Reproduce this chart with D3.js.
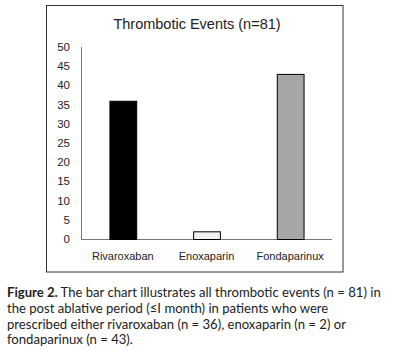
<!DOCTYPE html>
<html><head><meta charset="utf-8">
<script src="https://cdn.jsdelivr.net/npm/d3@7"></script>
<style>
html,body{margin:0;padding:0;background:#fff;}
</style></head>
<body>
<svg id="c" width="394" height="355"></svg>
<script>
const categories = ["Rivaroxaban", "Enoxaparin", "Fondaparinux"];
const values = [36, 2, 43];
const barColors = ["#000000", "#f2f2f2", "#a6a6a6"];
const yTicks = [0, 5, 10, 15, 20, 25, 30, 35, 40, 45, 50];
const title = "Thrombotic Events (n=81)";
const captionBold = "Figure 2.";
const captionLines = [
  " The bar chart illustrates all thrombotic events (n = 81) in",
  "the post ablative period (\u2264I  month) in patients who were",
  "prescribed either rivaroxaban (n = 36), enoxaparin (n = 2) or",
  "fondaparinux (n = 43)."
];

const svg = d3.select("#c");
const chartFont = "Liberation Sans, Arial, sans-serif";
const capFont = "Lato, 'Open Sans', sans-serif";

// frame
svg.append("rect").attr("x", 46.5).attr("y", 5.5).attr("width", 296.5).attr("height", 266.5)
  .attr("fill", "none").attr("stroke", "#333").attr("stroke-width", 1);

svg.append("text").attr("x", 197).attr("y", 29).attr("text-anchor", "middle")
  .attr("font-family", chartFont).attr("font-size", 14.5).attr("fill", "#222").text(title);

const x = d3.scaleBand().domain(categories).range([81, 332]).padding(0);
const y = d3.scaleLinear().domain([0, 50]).range([239, 47]);

// y axis line
svg.append("line").attr("x1", 81.5).attr("x2", 81.5).attr("y1", y(50)).attr("y2", y(0))
  .attr("stroke", "#777");
// x axis
svg.append("line").attr("x1", 81).attr("x2", 332).attr("y1", y(0) + 0.5).attr("y2", y(0) + 0.5)
  .attr("stroke", "#777");

svg.append("g").selectAll("text").data(yTicks).join("text")
  .attr("x", 70).attr("y", d => y(d) + 4).attr("text-anchor", "end")
  .attr("font-family", chartFont).attr("font-size", 11.5).attr("fill", "#222").text(d => d);

const bw = x.bandwidth() * 0.32;
svg.append("g").selectAll("rect").data(values).join("rect")
  .attr("x", (d, i) => x(categories[i]) + x.bandwidth() / 2 - bw / 2 + 0.5)
  .attr("y", d => y(d) + 0.5)
  .attr("width", bw).attr("height", d => y(0) - y(d))
  .attr("fill", (d, i) => barColors[i]).attr("stroke", "#000").attr("stroke-width", 1);

svg.append("g").selectAll("text").data(categories).join("text")
  .attr("x", d => x(d) + x.bandwidth() / 2).attr("y", 260).attr("text-anchor", "middle")
  .attr("font-family", chartFont).attr("font-size", 11).attr("fill", "#222").text(d => d);

// caption
const cap = svg.append("text").attr("font-family", capFont).attr("font-size", 13.1).attr("fill", "#222");
const baselines = [297, 313, 328.5, 344];
captionLines.forEach((l, i) => {
  if (i === 0) {
    cap.append("tspan").attr("x", 7).attr("y", baselines[i]).attr("font-weight", "bold").text(captionBold);
    cap.append("tspan").text(l);
  } else {
    cap.append("tspan").attr("x", 7).attr("y", baselines[i]).text(l);
  }
});
</script>
</body></html>
